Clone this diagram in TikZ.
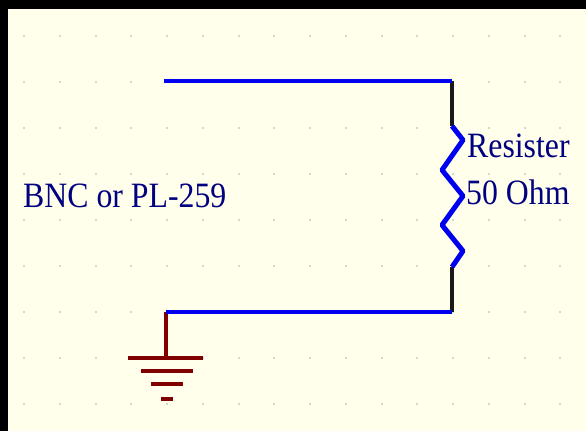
\documentclass[tikz,border=0pt]{standalone}
\usepackage{fontspec}
\setmainfont{Liberation Serif}
\definecolor{paper}{HTML}{FFFFEC}
\definecolor{griddot}{HTML}{D6D6D0}
\definecolor{wireblue}{HTML}{0000F0}
\definecolor{gndred}{HTML}{800000}
\definecolor{labelnavy}{HTML}{000080}
\tikzset{
  wire/.style={draw=wireblue,line width=4pt,line join=miter},
  zigzag/.style={draw=wireblue,line width=5pt,line join=round},
  lead/.style={draw=black!90,line width=3.5pt},
  gndstem/.style={draw=gndred,line width=3.5pt},
  gndbar/.style={draw=gndred,line width=4.5pt},
  lbl/.style={text=labelnavy,inner sep=0pt,anchor=base west,font=\fontsize{31.8pt}{34pt}\selectfont,yscale=1.12}
}
\begin{document}
\begin{tikzpicture}[x=1pt,y=-1pt]
\useasboundingbox (0,0) rectangle (586,431);
\fill[black] (0,0) rectangle (586,431);
\fill[paper] (7.5,8.5) rectangle (586,431);
\foreach \k in {0,...,15}{
  \foreach \y in {36,82,128,174,220,266,312,358,404}{
    \fill[griddot] ({24+35.75*\k-1},\y-1) rectangle ++(2,2);
  }
}
\coordinate (topL) at (164,81);
\coordinate (topR) at (452,81);
\coordinate (resT) at (452,126);
\coordinate (resB) at (452,267);
\coordinate (botR) at (452,311.5);
\coordinate (botL) at (166,311.5);
\coordinate (gnd) at (166,358);
\draw[lead] (topR) -- (resT);
\draw[lead] (resB) -- (botR);
\draw[gndstem] (botL) -- (gnd);
\draw[wire] (topL) -- (topR);
\draw[wire] (botL) -- (botR);
\draw[zigzag] (resT) -- (463,140) -- (442,170) -- (463,196) -- (442,225) -- (463,251) -- (resB);
\coordinate (g1a) at (128,358); \coordinate (g1b) at (203,358);
\coordinate (g2a) at (141,371); \coordinate (g2b) at (193,371);
\coordinate (g3a) at (151,384); \coordinate (g3b) at (183,384);
\coordinate (g4a) at (161,399); \coordinate (g4b) at (173,399);
\draw[gndbar] (g1a) -- (g1b);
\draw[gndbar] (g2a) -- (g2b);
\draw[gndbar] (g3a) -- (g3b);
\draw[gndbar] (g4a) -- (g4b);
\node[lbl] (conn) at (23,207) {BNC or PL-259};
\node[lbl] (res) at (467,157) {Resister};
\node[lbl] (ohm) at (466,204) {50 Ohm};
\end{tikzpicture}
\end{document}
